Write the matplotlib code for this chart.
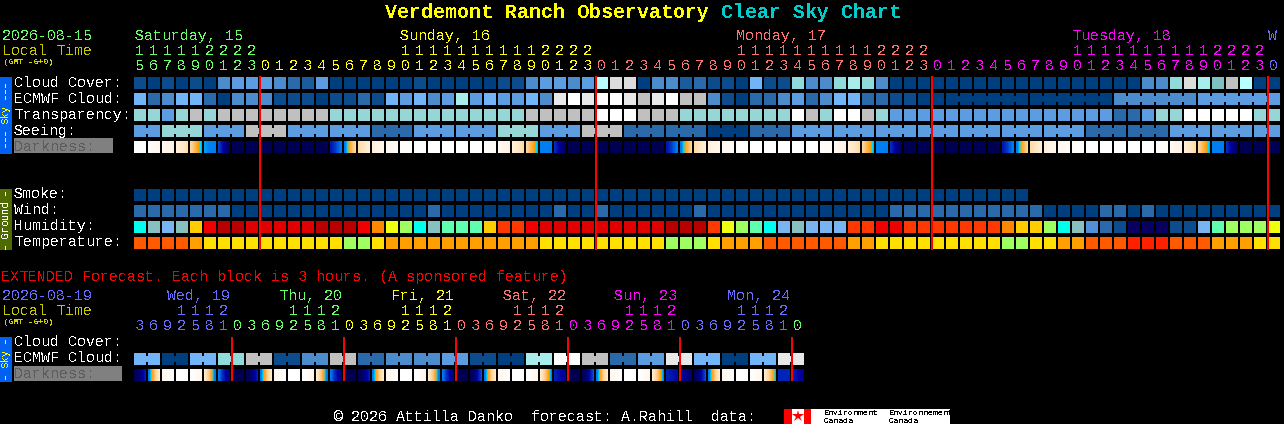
# Clear sky chart, redrawn in pixel coordinates
import matplotlib
matplotlib.use('Agg')
import matplotlib.pyplot as plt
from matplotlib.colors import LinearSegmentedColormap
from matplotlib.patches import Rectangle

plt.rcParams['text.antialiased'] = False
plt.rcParams['text.hinting'] = 'auto'
plt.rcParams['text.hinting_factor'] = 1

#%% palettes
sky_colors = ['#003f7f', '#0c4c8c', '#2a6aaa', '#4c8ccc', '#5c9ce0', '#72b4f8', '#96d6d6', '#c0c0c0',
              '#e8e8e8', '#ffffff', '#a8ecec', '#b8ffff', '#dcdcdc', '#7fc0c0', '#8fdada', '#1b5c9c']
humidity_colors = ['#00ffee', '#88c0c0', '#78b4f0', '#ffcc00', '#f00000', '#b80000', '#e00000', '#ff8800',
                   '#eeff10', '#a0ff60', '#60ffb0', '#ff3800', '#5090d8', '#2a6aaa', '#0c4c8c', '#080060']
temperature_colors = ['#ff5a00', '#ffa000', '#ffe000', '#a0ff60', '#ff2000']
dark_stops = [(0, '#ffffff'), (.1, '#fff4e6'), (.2, '#ffe6c0'), (.3, '#ffd090'), (.38, '#ffb040'),
              (.43, '#ffa000'), (.47, '#00d8ff'), (.52, '#0080f0'), (.58, '#0078f0'), (.66, '#0030c0'),
              (.75, '#0000a0'), (.88, '#000060'), (1, '#000050')]
day_colors = ['#66ff66', '#ffff00', '#ff7070', '#ff00ff', '#6a6aff']

#%% main forecast
hours = [15, 16, 17, 18, 19, 20, 21, 22, 23,
         0, 1, 2, 3, 4, 5, 6, 7, 8, 9, 10, 11, 12, 13, 14, 15, 16, 17, 18, 19, 20, 21, 22, 23,
         0, 1, 2, 3, 4, 5, 6, 7, 8, 9, 10, 11, 12, 13, 14, 15, 16, 17, 18, 19, 20, 21, 22, 23,
         0, 1, 2, 3, 4, 5, 6, 7, 8, 9, 10, 11, 12, 13, 14, 15, 16, 17, 18, 19, 20, 21, 22, 23,
         0]
hour_color = [0]*9 + [1]*24 + [2]*24 + [3]*24 + [4]
day_names = ['Saturday, 15', 'Sunday, 16', 'Monday, 17', 'Tuesday, 18', 'W']
day_name_x = [135, 400, 736, 1072, 1268]
day_name_color = [0, 1, 2, 3, 4]
midnights = [9, 33, 57, 81]

cloud_cover = [1, 0, 1, 0, 1, 0, 3, 4, 4, 4, 3, 2, 15, 4, 0, 0, 0, 0, 0, 0, 1,
               0, 0, 0, 0, 0, 1, 1, 3, 4, 4, 3, 4,
               11, 12, 12, 0, 3, 3, 15, 2, 1, 1, 0, 5, 1, 1, 14, 3, 3, 14, 10, 14, 3,
               0, 0, 0, 0, 0, 0, 0, 0, 0, 0, 0, 0, 0, 0, 0, 0, 0, 0,
               3, 3, 14, 12, 10, 13, 7, 11, 0, 0]
ecmwf_cloud = [5, 2, 3, 5, 5, 2, 0, 3, 3, 3, 1, 1, 1, 0, 1, 1, 2, 1, 5, 4, 5,
               3, 4, 10, 4, 5, 4, 4, 5, 3, 8, 9, 8, 9, 9, 8, 7, 8, 9, 7, 7,
               3, 1, 0, 2, 2, 3, 4, 2, 3, 5, 5, 2, 2, 1, 1, 0, 0,
               0, 0, 0, 0, 0, 0, 0, 0, 0, 0, 0, 0,
               3, 3, 3, 3, 3, 3, 4, 4, 4, 4, 4, 4]
ecmwf_groups = [6, 6, 6, 6]  # the last 24 columns are joined in blocks of 6
transparency = [6, 6, 4, 6, 7, 6, 7, 7, 7, 7, 7, 7, 7, 7,
                6, 6, 6, 6, 6, 6, 6, 6, 6, 6, 6, 6, 6, 6,
                7, 7, 7, 7, 7, 9, 9, 9, 7, 7, 7, 6, 6, 6, 6, 6, 6, 6, 6,
                9, 7, 6, 9, 9, 7, 6,
                4, 4, 4, 4, 4, 4, 4, 4, 4, 4, 4, 4, 4, 4, 4, 4,
                2, 2, 4, 6, 6, 9, 9, 9, 9, 9, 6, 6]
seeing = [4, 4, 6, 6, 6, 4, 4, 4, 7, 7, 7, 4, 4, 4, 4, 4, 4, 2, 2, 2, 4, 4, 4, 4, 4, 4,
          6, 6, 6, 4, 4, 4, 7, 7, 7, 2, 2, 2, 2, 2, 2, 0, 0, 0, 2, 2, 2, 4, 4, 4, 4, 4, 4,
          4, 4, 4, 4, 4, 4, 4, 4, 4, 4, 4, 4, 4, 4, 4, 2, 2, 2, 2, 2, 2, 4, 4, 4, 4, 4, 4, 4, 4]
seeing_groups = [2] + [3]*26 + [2]
dark_start = [0, .03, .06, .12, .26, .5, .62, .97, .97, .97, .97, .97, .97, .97, .72, .56, .26, .13, .07, .02,
              0, 0, 0, 0, 0, .02, .05, .13, .27, .52, .65, .97, .97, .97, .97, .97, .97, .97, .72, .56, .26, .13, .07, .03,
              0, 0, 0, 0, 0, .02, .05, .13, .27, .52, .65, .97, .97, .97, .97, .97, .97, .97, .72, .56, .26, .13, .07, .03,
              0, 0, 0, 0, 0, .02, .05, .13, .27, .52, .65, .97, .97, .97]
dark_end = [0, .07, .12, .24, .5, .55, .9, .97, .97, .97, .97, .97, .97, .97, .56, .25, .13, .07, .03, .01,
            0, 0, 0, 0, 0, .04, .12, .26, .5, .55, .9, .97, .97, .97, .97, .97, .97, .97, .56, .27, .13, .07, .03, .01,
            0, 0, 0, 0, 0, .04, .12, .26, .5, .55, .9, .97, .97, .97, .97, .97, .97, .97, .56, .27, .13, .07, .03, .01,
            0, 0, 0, 0, 0, .04, .12, .26, .5, .55, .9, .97, .97, .97]
smoke = [0, 0, 0, 0, 0, 0, 0, 0, 0, 0, 0, 0, 0, 0, 0, 0, 0, 0, 0, 0, 0, 0, 0, 0, 0, 0, 0, 0, 0, 0, 0, 0,
         0, 0, 0, 0, 0, 0, 0, 0, 0, 0, 0, 0, 0, 0, 0, 0, 0, 0, 0, 0, 0, 0, 0, 0, 0, 0, 0, 0, 0, 0, 0, 0]
wind = [2, 2, 2, 2, 2, 2, 2, 0, 0, 0, 0, 0, 0, 0, 0, 0, 0, 0, 0, 0, 0,
        2, 0, 0, 0, 0, 0, 0, 0, 0, 2, 0, 0, 2, 0, 0, 0, 0, 0, 0, 2,
        0, 0, 0, 0, 0, 0, 0, 0, 0, 0, 0, 0, 0, 2, 2, 2, 2, 2, 2, 2, 2, 2, 2, 2,
        0, 0, 0, 0, 2, 2, 0, 2, 0, 0, 0, 0, 0, 0, 0, 0, 0]
humidity = [0, 1, 2, 1, 3, 4, 5, 5, 6, 6, 6, 6, 6, 5, 5, 5, 4, 7, 8, 9, 0,
            1, 10, 10, 10, 3, 11, 11, 4, 6, 6, 6, 6, 6, 6, 6, 6, 6, 5, 5, 5, 11, 8, 9, 10, 0, 2, 1, 2, 2, 2, 11,
            11, 4, 4, 11, 11, 11, 11, 11, 11, 11, 7, 3, 3, 9, 0, 1, 12, 13, 14, 15, 15, 15, 14, 14, 2, 10, 9, 9, 9, 8]
temperature = [0, 0, 0, 0, 1, 2, 2, 2, 2, 2, 2, 2, 2, 2, 2, 3, 3, 2, 1, 1, 1, 1, 1, 1, 1, 1, 1, 1, 1,
               2, 2, 2, 2, 2, 2, 2, 2, 2, 3, 3, 3, 2, 1, 1, 1, 0, 0, 0, 0, 0, 0, 1, 1,
               2, 2, 2, 2, 2, 2, 2, 2, 2, 3, 3, 2, 2, 1, 1, 0, 0, 0, 4, 4, 4, 0, 0, 0, 1, 1, 1, 2, 2]

#%% extended forecast
ext_hours = [3, 6, 9, 12, 15, 18, 21,
             0, 3, 6, 9, 12, 15, 18, 21,
             0, 3, 6, 9, 12, 15, 18, 21,
             0, 3, 6, 9, 12, 15, 18, 21,
             0, 3, 6, 9, 12, 15, 18, 21,
             0, 3, 6, 9, 12, 15, 18, 21,
             0]
ext_hour_color = [4]*7 + [0]*8 + [1]*8 + [2]*8 + [3]*8 + [4]*8 + [0]
ext_day_names = ['Wed, 19', 'Thu, 20', 'Fri, 21', 'Sat, 22', 'Sun, 23', 'Mon, 24']
ext_day_x = [167, 279, 391, 503, 614, 727]
ext_day_color = [4, 0, 1, 2, 3, 4]
ext_midnights = [7, 15, 23, 31, 39, 47]
ext_ecmwf = [5, 5, 0, 0, 5, 5, 14, 14, 7, 7, 1, 1, 3, 3, 7, 7, 2, 2, 3, 3, 3, 3, 4, 4,
             1, 1, 0, 0, 10, 10, 9, 9, 7, 7, 2, 2, 4, 4, 8, 8, 5, 5, 0, 0, 5, 5, 8, 8]
ext_groups = [2]*24
ext_dark_start = [.97, .58, .07, 0, 0, .14, .55, .97, .97, .58, .07, 0, 0, .14, .55, .97,
                  .97, .58, .07, 0, 0, .14, .55, .97, .97, .58, .07, 0, 0, .14, .68, .97,
                  .97, .58, .07, 0, 0, .14, .68, .74, .97, .58, .07, 0, 0, .14, .68, .68]
ext_dark_end = [.68, .14, .01, 0, .08, .58, .85, .97, .68, .14, .01, 0, .08, .58, .85, .97,
                .68, .14, .01, 0, .08, .58, .85, .97, .6, .14, .01, 0, .08, .54, .78, .97,
                .6, .14, .01, 0, .08, .54, .74, .85, .6, .14, .01, 0, .08, .5, .68, .8]

#%% layout in pixels
X0, PITCH, CELL = 134, 14, 12
FONT = ['Liberation Mono', 'DejaVu Sans Mono']
TEXT = 10.8
dark_cmap = LinearSegmentedColormap.from_list('darkness', dark_stops)

fig = plt.figure(figsize=(12.84, 4.24), dpi=100, facecolor='black')
ax = fig.add_axes([0, 0, 1, 1])
ax.set_facecolor('black')
ax.axis('off')


def label(x, y, s, color='white', size=TEXT, weight='normal', **kw):
    ax.text(x, y, s, color=color, fontsize=size, fontweight=weight, family=FONT, va='baseline', **kw)


def cells(values, y, colors):
    xs = [X0 + PITCH*i for i in range(len(values))]
    ax.bar(xs, CELL, width=CELL, bottom=y, align='edge', linewidth=0,
           color=[colors[v] for v in values])


def joins(values, y, colors, groups, first=0):
    # the short bridges between cells that belong to one longer forecast block
    col = first
    for size in groups:
        for i in range(col, col + size - 1):
            ax.bar(X0 + PITCH*i + CELL, 6, width=PITCH - CELL, bottom=y + 3, align='edge', linewidth=0,
                   color=colors[values[i]])
        col += size


def darkness(start, end, y):
    for i, (a, b) in enumerate(zip(start, end)):
        left = X0 + PITCH*i
        # pixel centres of the two-value image land on the cell edges, the clip trims the rest
        im = ax.imshow([[a, b]], extent=(left - CELL/2, left + CELL*1.5, y + CELL, y), cmap=dark_cmap,
                       vmin=0, vmax=1, interpolation='bilinear', aspect='auto', zorder=2)
        im.set_clip_path(Rectangle((left, y), CELL, CELL, transform=ax.transData))


def hour_digits(hrs, colors, y_tens, y_units):
    for i, (h, c) in enumerate(zip(hrs, colors)):
        x = X0 + PITCH*i + 5.5
        label(x, y_units, str(h % 10), day_colors[c], ha='center')
        if h >= 10:
            label(x, y_tens, str(h // 10), day_colors[c], ha='center')


def side_bar(y0, y1, color, s, text_color):
    ax.bar(0, y1 - y0, width=12, bottom=y0, align='edge', color=color, linewidth=0)
    ax.text(6, (y0 + y1)/2, s, color=text_color, fontsize=7.2, family=FONT, rotation=90,
            ha='center', va='center')


def red_lines(cols, y0, y1):
    xs = [X0 + PITCH*c - 1 for c in cols]
    ax.bar(xs, y1 - y0, width=2, bottom=y0, align='edge', color='#ff0000', linewidth=0, zorder=5)


#%% title
label(385, 18, 'Verdemont Ranch Observatory', '#ffff00', size=14.4, weight='bold')
label(721, 18, 'Clear Sky Chart', '#00cccc', size=14.4, weight='bold')

#%% main block
label(2, 40, '2026-08-15', day_colors[0])
label(2, 55, 'Local Time', '#c8c800')
label(3, 64, '(GMT -6+0)', '#d0d000', size=5.6, weight='bold')
for name, x, c in zip(day_names, day_name_x, day_name_color):
    label(x, 40, name, day_colors[c])
hour_digits(hours, hour_color, 55, 70)

side_bar(77, 154, '#0060f0', '\u2013\u2013\u2013 Sky \u2013\u2013\u2013', '#ffff00')
side_bar(189, 250, '#4f6a00', '\u2013 Ground \u2013', '#ffffff')
ax.bar(14, 15, width=99, bottom=138, align='edge', color='#808080', linewidth=0)

for text, y in zip(['Cloud Cover:', 'ECMWF Cloud:', 'Transparency:', 'Seeing:'], [87, 103, 119, 135]):
    label(14, y, text)
label(14, 151, 'Darkness:', '#5c5c5c')
for text, y in zip(['Smoke:', 'Wind:', 'Humidity:', 'Temperature:'], [198, 214, 230, 246]):
    label(14, y, text)

cells(cloud_cover, 77, sky_colors)
cells(ecmwf_cloud, 93, sky_colors)
joins(ecmwf_cloud, 93, sky_colors, ecmwf_groups, first=58)
cells(transparency, 109, sky_colors)
cells(seeing, 125, sky_colors)
joins(seeing, 125, sky_colors, seeing_groups)
darkness(dark_start, dark_end, 141)
cells(smoke, 189, sky_colors)
cells(wind, 205, sky_colors)
cells(humidity, 221, humidity_colors)
cells(temperature, 237, temperature_colors)
red_lines(midnights, 76, 250)

#%% extended block
label(1, 281, 'EXTENDED Forecast. Each block is 3 hours. (A sponsored feature)', '#ff0000')
label(2, 300, '2026-08-19', day_colors[4])
label(2, 315, 'Local Time', '#c8c800')
label(3, 324, '(GMT -6+0)', '#d0d000', size=5.6, weight='bold')
for name, x, c in zip(ext_day_names, ext_day_x, ext_day_color):
    label(x, 300, name, day_colors[c])
hour_digits(ext_hours, ext_hour_color, 315, 330)

side_bar(337, 382, '#0060f0', '\u2013 Sky \u2013', '#ffff00')
ax.bar(14, 15, width=108, bottom=366, align='edge', color='#808080', linewidth=0)
label(14, 346, 'Cloud Cover:')
label(14, 362, 'ECMWF Cloud:')
label(14, 378, 'Darkness:', '#5c5c5c')
cells(ext_ecmwf, 353, sky_colors)
joins(ext_ecmwf, 353, sky_colors, ext_groups)
darkness(ext_dark_start, ext_dark_end, 369)
red_lines(ext_midnights, 337, 381)

#%% footer and logo
label(333, 421, '\u00a9 2026 Attilla Danko  forecast: A.Rahill  data:')
ax.bar(784, 15, width=166, bottom=409, align='edge', color='#ffffff', linewidth=0)
ax.bar([784, 804], 15, width=[8, 7], bottom=409, align='edge', color='#ff0000', linewidth=0)
ax.plot([798], [416], marker='*', markersize=9, color='#ff0000', markeredgewidth=0)
for x, word in zip([824, 889], ['Environment', 'Environnement']):
    label(x, 415, word, '#000000', size=5.6)
    label(x, 423, 'Canada', '#000000', size=5.6)

ax.set_xlim(0, 1284)
ax.set_ylim(424, 0)
fig.savefig('out.png', dpi=100, facecolor='black')
